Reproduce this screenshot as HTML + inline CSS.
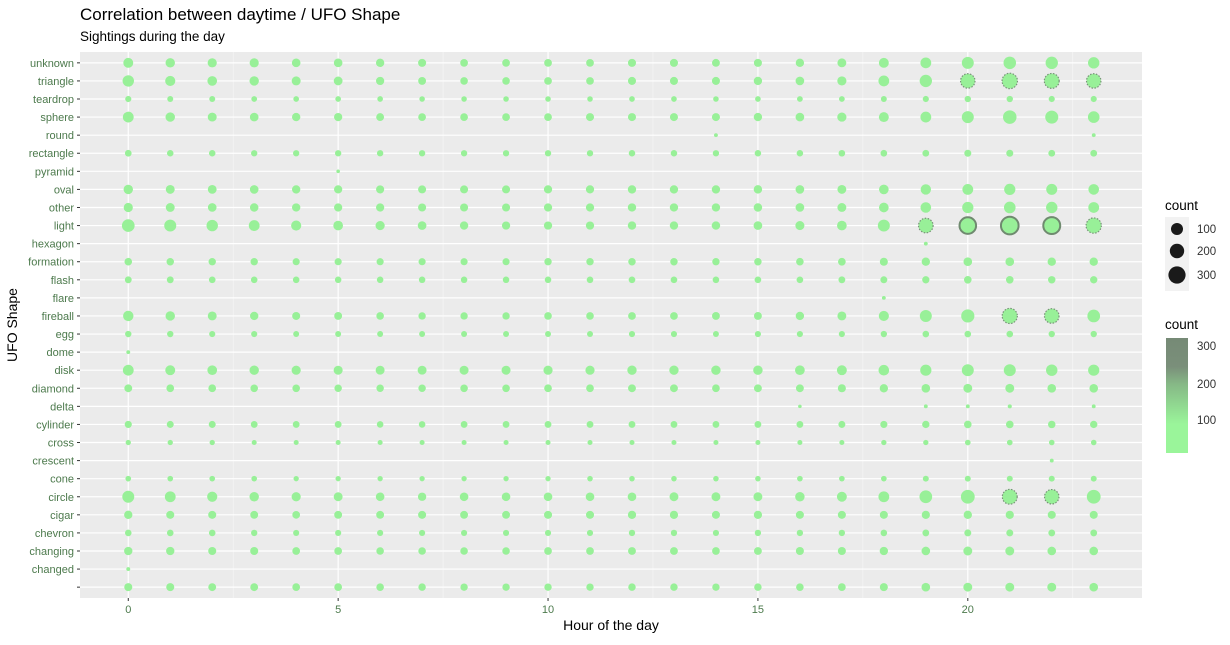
<!DOCTYPE html>
<html><head><meta charset="utf-8"><style>
body{margin:0;background:#fff;font-family:"Liberation Sans",sans-serif}
svg text{font-family:"Liberation Sans",sans-serif}
</style></head><body>
<svg id="chart" width="1230" height="640" xmlns="http://www.w3.org/2000/svg">
<text x="80" y="20" font-size="17" fill="#000">Correlation between daytime / UFO Shape</text>
<text x="80" y="41" font-size="13.5" fill="#000">Sightings during the day</text>
<rect x="80" y="52" width="1062" height="546" fill="#ebebeb"/>
<g id="grid"></g><g id="marks"></g><g id="axes"></g>
<text x="611" y="630" font-size="14" text-anchor="middle">Hour of the day</text>
<text transform="translate(17,325) rotate(-90)" font-size="14" text-anchor="middle">UFO Shape</text>
<g>
<text x="1165" y="210" font-size="13.5">count</text>
<rect x="1165" y="217" width="24" height="74" fill="#f2f2f2"/>
<circle cx="1177" cy="229" r="6" fill="#1a1a1a"/><circle cx="1177" cy="251" r="7.2" fill="#1a1a1a"/><circle cx="1177" cy="275" r="8.6" fill="#1a1a1a"/>
<text x="1197" y="233" font-size="11.5" fill="#333">100</text><text x="1197" y="255" font-size="11.5" fill="#333">200</text><text x="1197" y="279" font-size="11.5" fill="#333">300</text>
</g>
<g>
<defs><linearGradient id="cg" x1="0" y1="1" x2="0" y2="0"><stop offset="0" stop-color="#9af59a"/><stop offset="0.25" stop-color="#9af59a"/><stop offset="0.6" stop-color="#86b886"/><stop offset="0.75" stop-color="#7a8f7a"/><stop offset="1" stop-color="#768a76"/></linearGradient></defs>
<text x="1165" y="329" font-size="13.5">count</text>
<rect x="1166" y="338" width="22" height="115" fill="url(#cg)"/>
<text x="1197" y="350" font-size="11.5" fill="#333">300</text><text x="1197" y="388" font-size="11.5" fill="#333">200</text><text x="1197" y="424" font-size="11.5" fill="#333">100</text>
</g>
</svg>
<script>
const shapes=["","changed","changing","chevron","cigar","circle","cone","crescent","cross","cylinder","delta","diamond","disk","dome","egg","fireball","flare","flash","formation","hexagon","light","other","oval","pyramid","rectangle","round","sphere","teardrop","triangle","unknown"];
const xTicks=[0,5,10,15,20];
const cBlank=[45,45,42,42,40,40,38,36,35,35,35,35,36,36,35,36,38,40,45,55,60,60,60,55];
const cChanged=[3,0,0,0,0,0,0,0,0,0,0,0,0,0,0,0,0,0,0,0,0,0,0,0];
const cChanging=[50,50,45,45,40,40,38,38,38,38,40,40,42,42,40,42,45,45,50,55,60,60,55,55];
const cChevron=[25,25,25,22,20,20,20,20,20,20,20,20,22,22,20,22,22,22,25,28,30,30,28,28];
const cCigar=[50,45,45,42,40,42,42,45,42,42,45,45,48,48,45,48,45,45,45,48,50,48,45,45];
const cCircle=[130,100,85,70,65,60,55,50,55,55,55,55,55,60,60,60,70,80,100,150,185,220,205,185];
const cCone=[15,15,15,15,12,12,12,12,12,12,12,14,14,14,14,14,15,15,15,18,18,18,18,18];
const cCrescent=[0,0,0,0,0,0,0,0,0,0,0,0,0,0,0,0,0,0,0,0,0,0,3,0];
const cCross=[12,12,12,10,10,10,10,10,10,10,10,10,10,10,10,10,10,10,12,12,15,15,14,14];
const cCylinder=[32,30,30,28,28,28,25,25,28,28,28,28,28,28,28,28,28,30,32,35,38,38,36,35];
const cDelta=[0,0,0,0,0,0,0,0,0,0,0,0,0,0,0,0,2,0,0,3,3,4,0,3];
const cDiamond=[42,40,40,38,38,36,36,36,38,38,40,40,42,42,40,42,42,45,50,55,60,60,55,55];
const cDisk=[100,80,75,70,65,62,60,60,62,62,65,65,68,68,70,70,75,80,95,110,130,130,115,110];
const cDome=[3,0,0,0,0,0,0,0,0,0,0,0,0,0,0,0,0,0,0,0,0,0,0,0];
const cEgg=[22,22,20,20,18,18,18,18,18,18,18,18,20,20,18,20,20,20,22,25,25,25,22,22];
const cFireball=[90,70,60,50,45,42,38,35,35,35,38,38,40,40,42,42,50,60,85,130,165,230,210,150];
const cFlare=[0,0,0,0,0,0,0,0,0,0,0,0,0,0,0,0,0,0,3,0,0,0,0,0];
const cFlash=[28,28,26,25,25,24,24,24,24,24,24,25,26,26,25,26,26,28,30,34,38,38,36,35];
const cFormation=[38,36,35,35,32,32,32,32,32,32,35,35,36,36,35,36,38,40,45,50,55,55,50,50];
const cHexagon=[0,0,0,0,0,0,0,0,0,0,0,0,0,0,0,0,0,0,0,3,0,0,0,0];
const cLight=[150,130,115,100,85,75,65,55,50,48,48,48,50,50,52,55,62,75,130,210,285,330,300,235];
const cOther=[65,60,55,52,50,48,48,45,45,45,48,48,50,50,50,52,55,60,75,95,110,120,115,100];
const cOval=[70,60,58,55,50,48,46,45,45,45,48,48,50,50,50,52,55,60,75,90,100,110,105,95];
const cPyramid=[0,0,0,0,0,2,0,0,0,0,0,0,0,0,0,0,0,0,0,0,0,0,0,0];
const cRectangle=[26,24,24,22,22,22,22,22,22,22,22,22,24,24,22,24,24,25,26,28,30,30,28,28];
const cRound=[0,0,0,0,0,0,0,0,0,0,0,0,0,0,3,0,0,0,0,0,0,0,0,3];
const cSphere=[100,70,60,55,50,48,42,40,40,40,40,45,45,45,45,50,55,65,80,100,130,175,160,120];
const cTeardrop=[20,18,18,16,15,15,15,14,14,14,14,14,15,15,14,15,16,16,18,20,22,22,20,20];
const cTriangle=[115,85,75,70,62,58,48,42,38,38,40,40,45,45,45,50,55,65,100,140,205,240,220,205];
const cUnknown=[80,70,65,65,55,55,50,45,40,40,40,40,45,45,42,45,50,60,80,100,130,145,140,115];
const series=[cBlank,cChanged,cChanging,cChevron,cCigar,cCircle,cCone,cCrescent,cCross,cCylinder,cDelta,cDiamond,cDisk,cDome,cEgg,cFireball,cFlare,cFlash,cFormation,cHexagon,cLight,cOther,cOval,cPyramid,cRectangle,cRound,cSphere,cTeardrop,cTriangle,cUnknown];

const NS="http://www.w3.org/2000/svg";
const PL=80,PR=1142,PT=52,PB=598;
const xScale=h=>PL+(h+1.15)/(23+2.3)*(PR-PL);
const yScale=i=>PB-(i+0.6)/(shapes.length-1+1.2)*(PB-PT);
const rScale=c=>1.2+0.42*Math.sqrt(c);
function mk(tag,attrs,parent){const e=document.createElementNS(NS,tag);for(const k in attrs)e.setAttribute(k,attrs[k]);parent.appendChild(e);return e;}
const grid=document.getElementById('grid'),marks=document.getElementById('marks'),axes=document.getElementById('axes');
// minor x grid
for(let i=0;i<xTicks.length;i++){const m=xTicks[i]+2.5;if(m>23.5)continue;
 const l=mk('line',{x1:xScale(m),x2:xScale(m),y1:PT,y2:PB,stroke:'#f7f7f7','stroke-width':0.6},grid);
 }
xTicks.forEach(t=>{const x=xScale(t);
 const l=mk('line',{x1:x,x2:x,y1:PT,y2:PB,stroke:'#fff','stroke-width':1.2},grid);
 
 mk('line',{x1:x,x2:x,y1:PB,y2:PB+3,stroke:'#333','stroke-width':1},axes);
 const tx=mk('text',{x:x,y:PB+15,'font-size':11,'text-anchor':'middle',fill:'#4d7a4d'},axes);tx.textContent=t;
 });
shapes.forEach((s,i)=>{const y=yScale(i);
 const l=mk('line',{x1:PL,x2:PR,y1:y,y2:y,stroke:'#fff','stroke-width':1.2},grid);
 
 mk('line',{x1:PL-3,x2:PL,y1:y,y2:y,stroke:'#333','stroke-width':1},axes);
 const tx=mk('text',{x:PL-6,y:y+4,'font-size':11,'text-anchor':'end',fill:'#4d7a4d'},axes);tx.textContent=s;
 
 series[i].forEach((c,h)=>{if(c<=0)return;
  const dot=mk('circle',{cx:xScale(h),cy:y,r:rScale(c),fill:'#98f098'},marks);
  if(c>195){dot.setAttribute('stroke',c>260?'#6f8a6f':'#7a927a');dot.setAttribute('stroke-width',c>260?2:1.2);dot.setAttribute('stroke-dasharray',c>260?'none':'1.5 1.5');}
  
  });
});
</script>
</body></html>
